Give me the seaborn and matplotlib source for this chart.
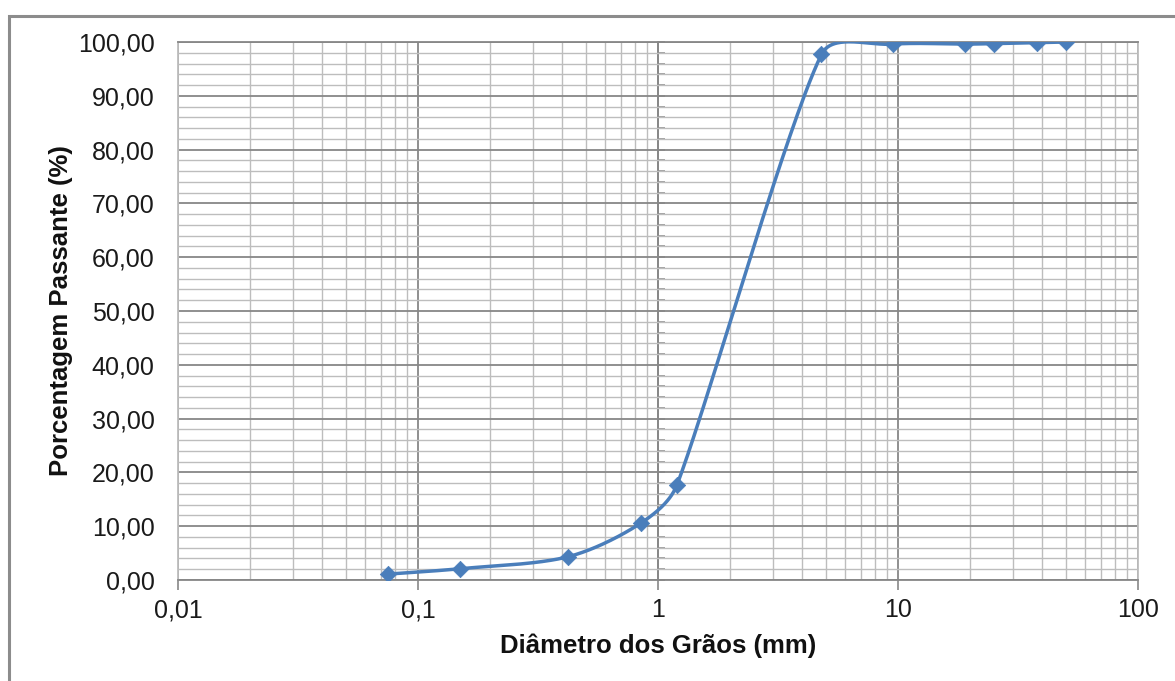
import numpy as np
import pandas as pd
import matplotlib
matplotlib.use("Agg")
import matplotlib.pyplot as plt
from matplotlib.ticker import LogLocator, MultipleLocator, FixedLocator, FuncFormatter, NullFormatter
from matplotlib.patches import Rectangle
import seaborn as sns

# ---- data ----
diametro_mm = [0.075, 0.15, 0.42, 0.85, 1.2, 4.8, 9.5, 19, 25, 38, 50]
passante_pct = [1.1, 2.1, 4.3, 10.6, 17.7, 97.7, 99.6, 99.6, 99.7, 99.9, 100.0]
x_ticks = [0.01, 0.1, 1, 10, 100]
x_tick_labels = ["0,01", "0,1", "1", "10", "100"]
y_ticks = [0, 10, 20, 30, 40, 50, 60, 70, 80, 90, 100]

sns.set_theme(style="white")
plt.rcParams["font.family"] = ["Liberation Sans", "DejaVu Sans"]

W, H = 1175, 681
fig = plt.figure(figsize=(W / 100, H / 100), dpi=100)
ax = fig.add_axes([178 / W, 1 - 580 / H, (1138 - 178) / W, (580 - 42) / H])

LINE = "#4A7EBB"
MAJ = "#878787"
MIN = "#BDBDBD"

# smoothed line (Bezier through the points in screen space)
sx, sy = 240.0, 5.386
u = np.log10(np.array(diametro_mm)) * sx
v = np.array(passante_pct) * sy
P = np.column_stack([u, v])
n = len(P)
tvec = []
for i in range(n):
    a = P[i - 1] if i > 0 else P[i]
    b = P[i + 1] if i + 1 < n else P[i]
    tvec.append((b - a) / 6.0)
cu, cv = [], []
t = np.linspace(0, 1, 60)
for i in range(n - 1):
    p0, p3 = P[i], P[i + 1]
    seg = np.linalg.norm(p3 - p0) / 3.0
    h0 = tvec[i]
    h1 = tvec[i + 1]
    if np.linalg.norm(h0) > seg:
        h0 = h0 / np.linalg.norm(h0) * seg
    if np.linalg.norm(h1) > seg:
        h1 = h1 / np.linalg.norm(h1) * seg
    c1 = p0 + h0
    c2 = p3 - h1
    bz = ((1 - t) ** 3)[:, None] * p0 + (3 * (1 - t) ** 2 * t)[:, None] * c1 \
        + (3 * (1 - t) * t ** 2)[:, None] * c2 + (t ** 3)[:, None] * p3
    cu.extend(bz[:, 0]); cv.extend(bz[:, 1])
curve = pd.DataFrame({"x": 10 ** (np.array(cu) / sx), "y": np.array(cv) / sy})
pts = pd.DataFrame({"x": diametro_mm, "y": passante_pct})

sns.lineplot(data=curve, x="x", y="y", sort=False, estimator=None, ax=ax,
             color=LINE, lw=2.5, zorder=4)
sns.scatterplot(data=pts, x="x", y="y", ax=ax, marker="D", s=70,
                color=LINE, edgecolor=LINE, linewidth=0.5, zorder=5)

ax.set_xscale("log")
ax.set_xlim(0.01, 100)
ax.set_ylim(0, 100)

ax.xaxis.set_major_locator(FixedLocator(x_ticks))
ax.xaxis.set_major_formatter(FuncFormatter(lambda val, pos: x_tick_labels[x_ticks.index(val)] if val in x_ticks else ""))
ax.xaxis.set_minor_locator(LogLocator(base=10, subs=np.arange(2, 10)))
ax.xaxis.set_minor_formatter(NullFormatter())
ax.yaxis.set_major_locator(FixedLocator(y_ticks))
ax.yaxis.set_major_formatter(FuncFormatter(lambda val, pos: f"{val:.2f}".replace(".", ",")))
ax.yaxis.set_minor_locator(MultipleLocator(2))

ax.grid(which="major", color=MAJ, lw=1.3, zorder=1)
ax.grid(which="minor", color=MIN, lw=1.0, zorder=0)
ax.set_axisbelow(True)

ax.tick_params(axis="x", which="major", length=7, width=1.2, color=MAJ, pad=6,
               labelsize=18, labelcolor="#1a1a1a", bottom=True)
ax.tick_params(axis="y", which="major", length=0, pad=17, labelsize=18, labelcolor="#1a1a1a")
ax.tick_params(which="minor", length=0)

for side, col in [("top", MAJ), ("bottom", MAJ), ("left", MIN), ("right", MIN)]:
    ax.spines[side].set_visible(True)
    ax.spines[side].set_color(col)
    ax.spines[side].set_linewidth(1.3)

# small ticks of the vertical axis crossing at x = 1
sec = ax.secondary_yaxis(0.5)
sec.yaxis.set_major_locator(FixedLocator(y_ticks))
sec.yaxis.set_minor_locator(MultipleLocator(2))
sec.yaxis.set_major_formatter(NullFormatter())
sec.yaxis.set_minor_formatter(NullFormatter())
sec.yaxis.set_ticks_position("right")
sec.tick_params(which="both", direction="out", length=5, width=1.1, color=MAJ)
for s in sec.spines.values():
    s.set_color(MAJ)
    s.set_linewidth(1.3)

ax.set_xlabel("Diâmetro dos Grãos (mm)", fontsize=18.5, fontweight="bold", color="#111111")
ax.set_ylabel("Porcentagem Passante (%)", fontsize=18.5, fontweight="bold", color="#111111")
ax.xaxis.set_label_coords(0.5, -(633 - 580) / 538)
ax.yaxis.set_label_coords(-(178 - 73) / 960, 0.5)

# outer chart frame
fig.patches.append(Rectangle((9 / W, -0.1), 1.2, 1 - 16 / H + 0.1, transform=fig.transFigure,
                             fill=False, edgecolor="#8C8C8C", lw=2.2, zorder=10))

fig.savefig("out.png", dpi=100)
